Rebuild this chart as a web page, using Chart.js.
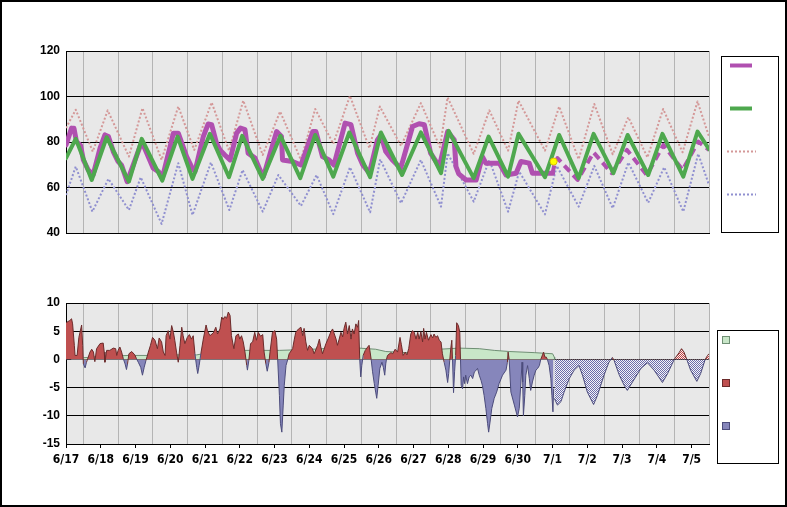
<!DOCTYPE html>
<html><head><meta charset="utf-8">
<script src="https://cdn.jsdelivr.net/npm/chart.js@4.4.1/dist/chart.umd.min.js"></script>
<style>
html,body{margin:0;padding:0;background:#fff;}
#frame{position:absolute;left:0;top:0;width:787px;height:507px;box-sizing:border-box;border:2px solid #000;}
#c1{position:absolute;left:0;top:0;}
#c2{position:absolute;left:0;top:260px;}
</style></head><body>
<div id="frame"></div>
<canvas id="c1" width="787" height="250"></canvas>
<canvas id="c2" width="787" height="247"></canvas>
<script>
// ---------- DATA (x = days since 6/17 00:00) ----------
const dayLabels = ['6/17','6/18','6/19','6/20','6/21','6/22','6/23','6/24','6/25','6/26','6/27','6/28','6/29','6/30','7/1','7/2','7/3','7/4','7/5'];

const tempObserved = [[0,78.7],[0.16,86.1],[0.23,86],[0.3,80.2],[0.42,78.4],[0.5,72.1],[0.64,67.7],[0.78,65.5],[0.98,77.3],[1.12,83.1],[1.22,82.4],[1.36,75.8],[1.5,71.4],[1.6,69.8],[1.76,62.6],[2.18,80.2],[2.51,68.5],[2.66,67],[2.77,64.1],[3.09,83.9],[3.23,83.9],[3.47,73.6],[3.61,69.2],[3.71,67],[3.95,82.4],[4.09,87.9],[4.19,87.6],[4.33,79.5],[4.43,76.5],[4.57,74.3],[4.72,72.1],[4.91,83.9],[5.02,86.1],[5.15,85.4],[5.24,75.1],[5.44,72.9],[5.58,67.7],[5.68,64.8],[5.96,79.5],[6.06,84.6],[6.2,82.4],[6.23,72.1],[6.52,71.4],[6.76,69.9],[7.1,84.6],[7.19,84.6],[7.38,73.6],[7.57,72.1],[7.71,69.9],[8.03,88.3],[8.2,87.6],[8.39,75.1],[8.54,69.9],[8.73,66.3],[8.96,80.9],[9.06,83.1],[9.2,75.8],[9.39,72.1],[9.63,68.5],[9.97,86.8],[10.16,88],[10.31,87.6],[10.49,75.1],[10.74,69.2],[10.98,84.6],[11.17,81],[11.22,69.2],[11.3,66],[11.51,63.3],[11.8,63.3],[11.98,73.6],[12.08,70.7],[12.47,70.7],[12.66,65.5],[12.95,66.3],[13.09,71.4],[13.33,70.7],[13.42,66.3],[14.0,66.3]];
const tempForecast = [[14.0,66.3],[14.05,70],[14.14,72.9],[14.72,63.3],[15.18,75.4],[15.7,66.3],[16.14,76.5],[16.71,65.5],[17.19,78.7],[17.74,67.7],[18.19,80.2],[18.5,76.5]];
const tempCurrent = [[14.03,71.4]];
const tempNormal = [[0,72.9],[0.28,81.4],[0.74,63.3],[1.17,82.1],[1.81,62.6],[2.18,81.4],[2.77,63],[3.21,82.4],[3.64,63.8],[4.14,83.6],[4.69,64.5],[5.07,82.7],[5.66,63.8],[6.17,82.7],[6.74,64.1],[7.17,83.1],[7.69,64.8],[8.15,84.2],[8.75,64.5],[9.06,84.2],[9.67,65.5],[10.21,84.2],[10.79,66.3],[11.01,84.9],[11.73,64.1],[12.16,82.4],[12.72,64.8],[13.02,83.6],[13.78,64.5],[14.19,83.1],[14.75,64.1],[15.18,83.6],[15.75,66.3],[16.16,83.1],[16.75,65.5],[17.16,83.6],[17.76,64.8],[18.17,84.6],[18.5,76.8]];
const tempRecordHigh = [[0,86.1],[0.28,94.2],[0.77,75.8],[1.2,93.9],[1.81,73.6],[2.2,94.9],[2.75,72.1],[3.23,95.6],[3.69,76.5],[4.19,97.4],[4.69,76.2],[5.1,98.2],[5.66,74.3],[6.16,93.4],[6.76,72.1],[7.17,94.5],[7.69,79.2],[8.17,100.3],[8.73,77.3],[9.03,95.6],[9.64,78.3],[10.21,97.1],[10.76,77.7],[10.98,99.6],[11.73,74.8],[12.18,93.9],[12.72,76.2],[13.02,98.2],[13.78,76.2],[14.19,95.6],[14.75,72.4],[15.2,96.7],[15.73,74.6],[16.18,90.9],[16.73,73.2],[17.18,94.5],[17.74,75.5],[18.17,97.8],[18.5,82.4]];
const tempRecordLow = [[0,56.7],[0.28,69.2],[0.76,49.4],[1.22,63.8],[1.81,50.1],[2.15,64.5],[2.75,44],[3.23,70.7],[3.64,47.9],[4.17,71],[4.7,50.1],[5.08,67.7],[5.66,49.4],[6.11,65.5],[6.76,51.9],[7.21,65.5],[7.69,48.3],[8.17,68.9],[8.75,49.1],[9.04,72.4],[9.64,53.1],[10.21,72.1],[10.79,51.6],[10.98,75.1],[11.73,53.8],[12.18,72.1],[12.72,49.4],[13.04,67],[13.78,48.2],[14.12,69.5],[14.75,51.6],[15.2,69.5],[15.73,50.9],[16.18,71],[16.75,53.3],[17.21,68.9],[17.76,49.4],[18.19,74.8],[18.5,61.1]];

const departObserved = [[0,6.5],[0.11,6.9],[0.16,7.2],[0.19,6.3],[0.24,2.5],[0.26,0.7],[0.32,0.7],[0.37,3.9],[0.45,6.1],[0.48,2.5],[0.5,-0.8],[0.55,-1.5],[0.59,-0.5],[0.69,1.3],[0.74,1.8],[0.79,1.3],[0.83,-0.4],[0.88,1.9],[0.98,2.8],[1.07,2.9],[1.1,1.3],[1.12,-0.5],[1.17,1.6],[1.26,1.6],[1.36,2.0],[1.43,1.9],[1.46,0.7],[1.5,1.6],[1.55,2.2],[1.6,1.3],[1.65,0.1],[1.7,-0.8],[1.74,-1.8],[1.77,-0.8],[1.81,1.0],[1.89,1.4],[1.98,0.8],[2.03,0.1],[2.08,-0.5],[2.15,-1.4],[2.2,-2.8],[2.25,-1.4],[2.3,-0.2],[2.37,1.3],[2.43,2.5],[2.49,3.9],[2.56,3.4],[2.63,1.9],[2.68,3.8],[2.75,3.1],[2.8,1.3],[2.85,0.7],[2.88,4.2],[2.94,5.1],[2.99,3.6],[3.04,6.0],[3.09,4.8],[3.13,3.4],[3.18,1.3],[3.23,-0.5],[3.28,2.5],[3.33,5.7],[3.37,4.2],[3.42,2.8],[3.49,3.9],[3.55,4.4],[3.61,3.6],[3.66,4.2],[3.71,1.0],[3.76,-1.4],[3.79,-2.5],[3.83,-1.1],[3.88,1.0],[3.95,3.6],[4.03,6.1],[4.07,5.1],[4.14,4.2],[4.24,4.7],[4.31,5.7],[4.36,4.5],[4.43,5.4],[4.48,7.5],[4.52,7.1],[4.57,7.6],[4.62,7.3],[4.67,8.4],[4.72,7.8],[4.76,4.2],[4.83,1.9],[4.89,4.2],[4.96,4.5],[5.0,3.6],[5.05,4.2],[5.1,3.1],[5.15,1.3],[5.2,-1.1],[5.22,-1.9],[5.26,-0.2],[5.31,2.8],[5.37,3.1],[5.43,4.8],[5.48,3.4],[5.53,4.8],[5.6,4.1],[5.66,4.4],[5.7,1.3],[5.75,-0.8],[5.79,-2.1],[5.84,-0.5],[5.87,1.3],[5.94,4.8],[6.01,5.1],[6.06,3.6],[6.09,0],[6.14,-6.4],[6.17,-11.4],[6.21,-12.9],[6.25,-8.1],[6.28,-4.6],[6.33,-1.1],[6.38,0],[6.42,1.0],[6.52,1.9],[6.57,3.6],[6.61,4.8],[6.69,5.4],[6.76,5.7],[6.81,4.2],[6.85,5.5],[6.9,3.1],[6.95,1.6],[7.0,2.5],[7.09,1.9],[7.14,1.0],[7.24,2.5],[7.29,3.6],[7.33,2.2],[7.38,1.0],[7.48,2.8],[7.55,3.8],[7.62,4.9],[7.67,5.4],[7.72,4.5],[7.77,3.6],[7.81,2.5],[7.86,3.6],[7.91,4.8],[7.96,4.0],[8.0,5.5],[8.05,6.6],[8.1,4.5],[8.15,6.0],[8.2,3.6],[8.24,5.4],[8.29,4.5],[8.34,6.3],[8.39,5.7],[8.42,6.9],[8.45,0.1],[8.48,-3.1],[8.51,-1.1],[8.55,0.7],[8.61,1.6],[8.68,2.2],[8.72,2.5],[8.75,1.3],[8.78,0],[8.82,-2.2],[8.87,-4.3],[8.91,-5.8],[8.94,-6.9],[8.98,-4.6],[9.03,-1.6],[9.09,-0.5],[9.13,-1.4],[9.17,-2.8],[9.2,-0.8],[9.22,0],[9.25,0.7],[9.35,1.2],[9.4,1.0],[9.47,1.8],[9.54,1.3],[9.61,3.9],[9.65,2.6],[9.7,0.7],[9.76,1.3],[9.81,0.8],[9.86,1.9],[9.92,4.5],[9.97,5.1],[10.02,4.8],[10.07,3.6],[10.12,4.8],[10.16,3.6],[10.21,4.9],[10.26,3.1],[10.29,5.5],[10.33,3.6],[10.37,4.8],[10.43,3.4],[10.5,4.4],[10.55,3.8],[10.59,4.5],[10.64,3.9],[10.69,4.2],[10.74,3.4],[10.79,3.1],[10.83,1.0],[10.88,-0.5],[10.93,-1.9],[10.98,-4.1],[11.01,-2.5],[11.04,-0.2],[11.07,1.9],[11.1,3.4],[11.12,0.1],[11.15,-5.9],[11.18,-2.2],[11.21,0.7],[11.24,6.5],[11.29,6.0],[11.33,4.8],[11.35,0],[11.37,-4.6],[11.41,-5.2],[11.44,-3.1],[11.47,-4.3],[11.5,-2.8],[11.55,-4.3],[11.6,-3.1],[11.65,-2.8],[11.7,-3.4],[11.75,-2.2],[11.79,-2.0],[11.84,-1.6],[11.89,-2.8],[11.94,-3.7],[11.98,-4.6],[12.03,-6.4],[12.08,-8.7],[12.13,-11.4],[12.16,-12.9],[12.2,-11.1],[12.25,-8.7],[12.32,-6.9],[12.39,-5.8],[12.46,-4.3],[12.56,-2.8],[12.66,-1.9],[12.7,-0.5],[12.72,1.3],[12.75,0],[12.8,-5.8],[12.9,-8.1],[12.99,-10.2],[13.04,-8.7],[13.09,-4.0],[13.12,-0.5],[13.14,-4.0],[13.16,-10.0],[13.2,-6.4],[13.23,-2.8],[13.28,-1.1],[13.33,-3.4],[13.37,-5.5],[13.42,-4.0],[13.47,-2.8],[13.52,-1.9],[13.57,-1.6],[13.62,-1.1],[13.66,0],[13.71,0.8],[13.74,1.3],[13.78,0.4],[13.82,0.4],[13.85,0],[13.9,-1.1],[13.95,-3.4],[13.98,-6.4],[14.01,-9.3],[14.03,-5.2]];
const departForecast = [[14.05,-6.9],[14.14,-8.1],[14.24,-7.5],[14.33,-5.8],[14.48,-3.4],[14.62,-1.9],[14.76,-1.1],[14.86,-2.8],[15.0,-5.8],[15.18,-8.0],[15.29,-6.4],[15.48,-2.8],[15.62,-0.5],[15.72,0.35],[15.77,-0.2],[15.92,-2.8],[16.06,-4.6],[16.15,-5.5],[16.3,-4.0],[16.54,-1.6],[16.73,-0.6],[16.92,-1.9],[17.16,-4.1],[17.31,-2.5],[17.5,0],[17.64,1.2],[17.71,1.9],[17.78,1.3],[17.86,0],[17.97,-1.9],[18.15,-3.9],[18.26,-2.5],[18.39,0],[18.46,0.7],[18.5,1.0]];
const departMean = [[0.15,0],[0.2,0.2],[0.5,0.3],[1.17,0.6],[1.84,0.7],[2.51,0.7],[3.09,0.8],[3.76,0.8],[3.95,1.0],[4.52,1.3],[5.1,1.6],[6.14,1.6],[7.09,1.8],[7.67,2.0],[8.44,2.0],[8.91,1.8],[9.2,1.4],[9.78,1.2],[10.26,1.4],[10.74,1.8],[11.31,2.0],[11.89,1.9],[12.32,1.6],[12.75,1.4],[13.47,1.2],[14.0,1.0],[14.05,0.4],[14.06,0]];

const topTicks = [40,60,80,100,120];
const bottomTicks = [-15,-10,-5,0,5,10];

// ---------- helpers ----------
const pts = a => a.map(([x,y]) => ({x, y}));
const gridTicks = Array.from({length: dayLabels.length}, (_, i) => ({value: i + 0.5}));
const labelTicks = dayLabels.map((_, i) => ({value: i}));
const boldFont = {family: "'Liberation Sans', Arial, sans-serif", size: 12, weight: 'bold'};
const narrowFont = {family: "'Liberation Sans Narrow', 'Arial Narrow', 'DejaVu Sans Condensed', sans-serif", size: 12, weight: 'bold'};

function checker(c1, c2) {
  const p = document.createElement('canvas'); p.width = 2; p.height = 2;
  const g = p.getContext('2d');
  g.fillStyle = c2; g.fillRect(0,0,2,2);
  g.fillStyle = c1; g.fillRect(0,0,1,1); g.fillRect(1,1,1,1);
  return g.createPattern(p, 'repeat');
}

const C = {
  purple: '#b050b0', green: '#4ea84e', pink: '#d49898', blue: '#9090d0',
  red: '#bf5050', redLine: '#6b2b2b', navy: '#8686bb', navyLine: '#4c4c7c',
  mint: '#c8e6c8', mintLine: '#6f8f74'
};

const bgPlugin = {
  id: 'bg',
  beforeDraw(chart) {
    const {ctx, chartArea: a} = chart;
    ctx.save(); ctx.fillStyle = '#e8e8e8';
    ctx.fillRect(a.left, a.top, a.right - a.left, a.bottom - a.top);
    ctx.restore();
  }
};

const topLegend = {
  id: 'topLegend',
  afterDraw(chart) {
    const ctx = chart.ctx; ctx.save();
    ctx.strokeStyle = '#000'; ctx.lineWidth = 1;
    ctx.strokeRect(721.5, 56.5, 57, 176);
    const items = [[65.5, C.purple, 4, [], 730, 752], [108.5, C.green, 4, [], 730, 752], [151.5, C.pink, 2, [2,2], 727, 756], [194.5, C.blue, 2, [2,2], 727, 756]];
    for (const [y, col, w, dash, x0, x1] of items) {
      ctx.beginPath(); ctx.strokeStyle = col; ctx.lineWidth = w; ctx.setLineDash(dash);
      ctx.moveTo(x0, y); ctx.lineTo(x1, y); ctx.stroke();
    }
    ctx.restore();
  }
};

const bottomLegend = {
  id: 'bottomLegend',
  afterDraw(chart) {
    const ctx = chart.ctx; ctx.save();
    ctx.strokeStyle = '#000'; ctx.lineWidth = 1;
    ctx.strokeRect(717.5, 70.5, 61, 133);
    const items = [[76.5, C.mint, C.mintLine], [119.5, C.red, C.redLine], [162.5, C.navy, C.navyLine]];
    for (const [y, f, s] of items) {
      ctx.fillStyle = f; ctx.fillRect(722.5, y, 7, 7);
      ctx.strokeStyle = s; ctx.strokeRect(722.5, y, 7, 7);
    }
    ctx.restore();
  }
};

Chart.defaults.animation = false;
const lineBase = {pointRadius: 0, tension: 0, borderJoinStyle: 'round', borderCapStyle: 'round'};

new Chart(document.getElementById('c1'), {
  type: 'line',
  data: {
    datasets: [
      {data: pts(tempCurrent), showLine: false, pointRadius: 3.5, pointBackgroundColor: '#ffff00', pointBorderColor: '#e0c000', pointBorderWidth: 1, order: 0},
      {...lineBase, data: pts(tempNormal), borderColor: C.green, borderWidth: 4, order: 1},
      {...lineBase, data: pts(tempObserved), borderColor: C.purple, borderWidth: 5, order: 2},
      {...lineBase, data: pts(tempForecast), borderColor: C.purple, borderWidth: 4, borderDash: [8,5], borderCapStyle: 'butt', order: 3},
      {...lineBase, data: pts(tempRecordHigh), borderColor: C.pink, borderWidth: 2, borderDash: [2,2], borderCapStyle: 'butt', order: 4},
      {...lineBase, data: pts(tempRecordLow), borderColor: C.blue, borderWidth: 2, borderDash: [2,2], borderCapStyle: 'butt', order: 5}
    ]
  },
  options: {
    responsive: false, animation: false,
    layout: {padding: {top: 51, right: 78, left: 0, bottom: 0}},
    plugins: {legend: {display: false}, tooltip: {enabled: false}},
    scales: {
      x: {type: 'linear', min: 0, max: 18.5,
          afterBuildTicks: s => { s.ticks = gridTicks.map(t => ({...t})); },
          ticks: {display: false},
          grid: {color: '#b4b4b4', drawTicks: false},
          border: {color: '#000'},
          afterFit: s => { s.height = 17; }},
      y: {min: 40, max: 120,
          afterBuildTicks: s => { s.ticks = topTicks.map(v => ({value: v})); },
          ticks: {color: '#000', font: boldFont, padding: 6},
          grid: {color: '#000', drawTicks: false},
          border: {color: '#000'},
          afterFit: s => { s.width = 66; }}
    }
  },
  plugins: [bgPlugin, topLegend]
});

const hatchBlue = checker('#6c6caa', '#f4f4f8');
const hatchRed = checker('#c04040', '#f8f0f0');

new Chart(document.getElementById('c2'), {
  type: 'line',
  data: {
    datasets: [
      {data: pts(departObserved), borderWidth: 1, pointRadius: 0, tension: 0, order: 1,
       fill: {target: 'origin', above: C.red, below: C.navy},
       borderColor: C.navyLine,
       segment: {borderColor: c => (c.p0.parsed.y + c.p1.parsed.y) >= 0 ? C.redLine : C.navyLine}},
      {data: pts(departForecast), borderWidth: 1, pointRadius: 0, tension: 0, order: 2,
       fill: {target: 'origin', above: hatchRed, below: hatchBlue},
       borderColor: C.navyLine,
       segment: {borderColor: c => (c.p0.parsed.y + c.p1.parsed.y) >= 0 ? C.redLine : C.navyLine}},
      {data: pts(departMean), borderWidth: 1, borderColor: C.mintLine, backgroundColor: C.mint, fill: 'origin', pointRadius: 0, tension: 0, order: 3}
    ]
  },
  options: {
    responsive: false, animation: false,
    layout: {padding: {top: 43, right: 78, left: 0, bottom: 0}},
    plugins: {legend: {display: false}, tooltip: {enabled: false}},
    scales: {
      x: {type: 'linear', min: 0, max: 18.5, weight: 0,
          afterBuildTicks: s => { s.ticks = gridTicks.map(t => ({...t})); },
          ticks: {display: false},
          grid: {color: '#b4b4b4', drawTicks: false},
          border: {display: false},
          afterFit: s => { s.height = 0; }},
      xl: {type: 'linear', position: 'bottom', min: 0, max: 18.5, weight: 1,
          afterBuildTicks: s => { s.ticks = labelTicks.map(t => ({...t})); },
          ticks: {callback: (v, i) => dayLabels[i], autoSkip: false, maxRotation: 0, color: '#000', font: narrowFont, padding: 5},
          grid: {drawOnChartArea: false, color: '#000', tickLength: 4},
          border: {color: '#000'},
          afterFit: s => { s.height = 63; }},
      y: {min: -15, max: 10,
          afterBuildTicks: s => { s.ticks = bottomTicks.map(v => ({value: v})); },
          ticks: {color: '#000', font: boldFont, padding: 6},
          grid: {color: '#000', drawTicks: false},
          border: {color: '#000'},
          afterFit: s => { s.width = 66; }}
    }
  },
  plugins: [bgPlugin, bottomLegend]
});
</script>
</body></html>
